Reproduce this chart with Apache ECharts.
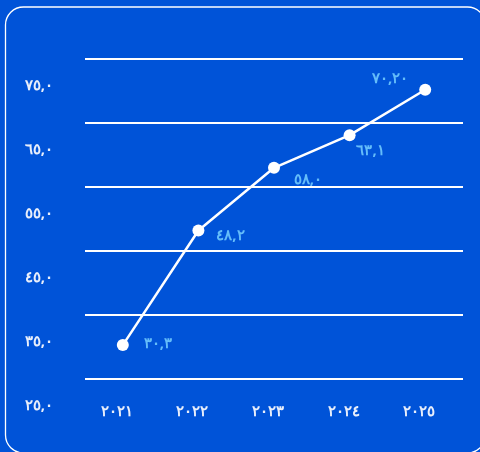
<!DOCTYPE html>
<html>
<head>
<meta charset="utf-8">
<script src="https://cdn.jsdelivr.net/npm/echarts@6/dist/echarts.min.js"></script>
<style>
html,body{margin:0;padding:0;background:#0053d8;}
#chart{width:480px;height:452px;}
</style>
</head>
<body>
<div id="chart"></div>
<script>
var categories = ['٢٠٢١', '٢٠٢٢', '٢٠٢٣', '٢٠٢٤', '٢٠٢٥'];
var values = [30.3, 48.2, 58.0, 63.1, 70.2];
var valueLabels = ['٣٠,٣', '٤٨,٢', '٥٨,٠', '٦٣,١', '٧٠,٢٠'];
var yTickValues = [25, 35, 45, 55, 65, 75];
var yTickLabels = ['٢٥,٠', '٣٥,٠', '٤٥,٠', '٥٥,٠', '٦٥,٠', '٧٥,٠'];

var labelOffsets = [[35, -1], [32, 5], [34, 12], [21, 16], [-35, -11]];

var chart = echarts.init(document.getElementById('chart'), null, {renderer: 'canvas'});
var fontFam = '"Noto Sans", sans-serif';

var data = values.map(function (v, i) {
  return {
    value: v,
    label: {
      show: true,
      position: 'inside',
      offset: labelOffsets[i],
      formatter: valueLabels[i]
    }
  };
});

chart.setOption({
  backgroundColor: '#0053d8',
  animation: false,
  graphic: [{
    type: 'rect',
    shape: {x: 5.5, y: 7, width: 480, height: 446, r: 18},
    style: {fill: 'none', stroke: '#ffffff', lineWidth: 1.3},
    silent: true,
    z: 0
  }],
  grid: {left: 85, right: 17, top: 59, bottom: 73, containLabel: false},
  xAxis: {
    type: 'category',
    data: categories,
    boundaryGap: true,
    axisLine: {show: false},
    axisTick: {show: false},
    axisLabel: {
      color: '#e9effb',
      fontFamily: fontFam,
      fontWeight: 'bold',
      fontSize: 15,
      margin: 25,
      padding: [0, 12, 0, 0]
    },
    splitLine: {show: false}
  },
  yAxis: {
    type: 'value',
    min: 25,
    max: 75,
    interval: 10,
    axisLine: {show: false},
    axisTick: {show: false},
    axisLabel: {
      color: '#e9effb',
      fontFamily: fontFam,
      fontWeight: 'bold',
      fontSize: 15,
      margin: 32,
      align: 'right',
      verticalAlign: 'top',
      lineHeight: 54,
      formatter: function (v) {
        var idx = yTickValues.indexOf(Math.round(v));
        return idx >= 0 ? yTickLabels[idx] : '';
      }
    },
    splitLine: {show: true, lineStyle: {color: '#ffffff', width: 2}}
  },
  series: [{
    type: 'line',
    data: data,
    symbol: 'circle',
    symbolSize: 12,
    showAllSymbol: true,
    itemStyle: {color: '#ffffff'},
    lineStyle: {color: '#ffffff', width: 2.5},
    label: {
      color: '#64bdfa',
      fontFamily: fontFam,
      fontWeight: 'bold',
      fontSize: 15
    },
    z: 5
  }]
});
</script>
</body>
</html>
